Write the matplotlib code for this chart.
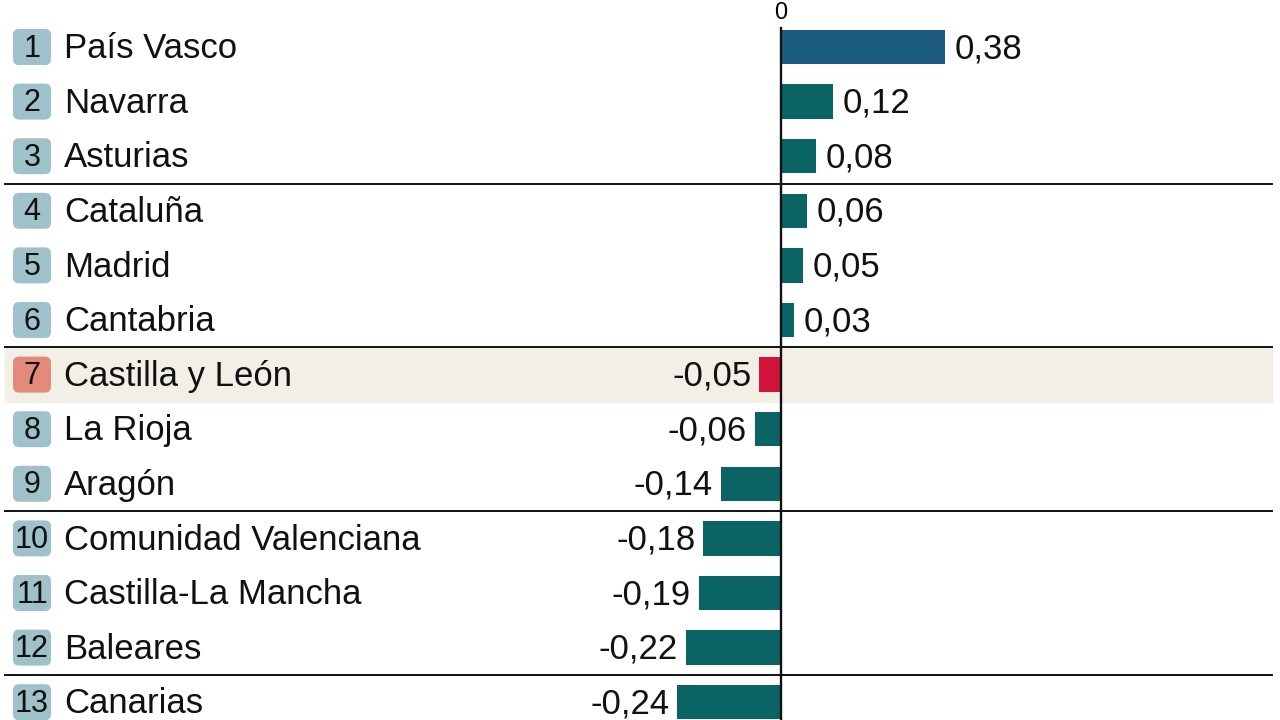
#!/usr/bin/env python3
"""Bar chart of regional differences, diverging around zero."""

import matplotlib
matplotlib.use("Agg")
import matplotlib.pyplot as plt
from matplotlib.patches import FancyBboxPatch

regions = ["País Vasco", "Navarra", "Asturias", "Cataluña", "Madrid", "Cantabria",
           "Castilla y León", "La Rioja", "Aragón", "Comunidad Valenciana",
           "Castilla-La Mancha", "Baleares", "Canarias"]
values = [0.38, 0.12, 0.08, 0.06, 0.05, 0.03,
          -0.05, -0.06, -0.14, -0.18, -0.19, -0.22, -0.24]
labels = ["0,38", "0,12", "0,08", "0,06", "0,05", "0,03",
          "-0,05", "-0,06", "-0,14", "-0,18", "-0,19", "-0,22", "-0,24"]
highlight = "Castilla y León"
separators_after = [2, 5, 8, 11]

W, H = 1280, 720
X0 = 781.0          # pixel of zero
PX_PER_UNIT = 431.6
Y0 = 47.0           # pixel centre of first row
ROW = 54.6

TEAL = "#0b6464"
BLUE = "#1b5c7e"
RED = "#d2143c"
BADGE = "#9fc1c9"
BADGE_HI = "#e48a7c"
BAND = "#f2efe6"

FONT = ["Liberation Sans Narrow", "Liberation Sans", "DejaVu Sans"]

fig = plt.figure(figsize=(W / 100, H / 100), dpi=100)
ax = fig.add_axes([0, 0, 1, 1])
ax.set_xlim(-X0 / PX_PER_UNIT, (W - X0) / PX_PER_UNIT)
ax.set_ylim((H - Y0) / ROW, -Y0 / ROW)
ax.axis("off")


def px(x):
    return (x - X0) / PX_PER_UNIT


n = len(regions)
colors = []
for i, r in enumerate(regions):
    if r == highlight:
        colors.append(RED)
    elif i == 0:
        colors.append(BLUE)
    else:
        colors.append(TEAL)

# highlight band
hi = regions.index(highlight)
ax.axhspan(hi - 0.5, hi + 0.5, xmin=5 / W, xmax=1272 / W, color=BAND, zorder=0)

ax.barh(range(n), values, height=0.63, color=colors, zorder=2)

for s in separators_after:
    ax.plot([px(5), px(1272)], [s + 0.5, s + 0.5], color="#111111", lw=1.4, zorder=3)

ax.plot([0, 0], [-0.35, n], color="#111111", lw=1.7, zorder=4)
ax.text(0, -0.63, "0", ha="center", va="center", fontsize=17, family=FONT)

aspect = PX_PER_UNIT / ROW
for i, (r, v, lab) in enumerate(zip(regions, values, labels)):
    bc = BADGE_HI if r == highlight else BADGE
    w = 38 / PX_PER_UNIT
    h = 36 / ROW
    badge = FancyBboxPatch((px(13), i - h / 2), w, h,
                           boxstyle=f"round,pad=0,rounding_size={6 / PX_PER_UNIT}",
                           mutation_aspect=aspect,
                           fc=bc, ec="none", zorder=2)
    ax.add_patch(badge)
    ax.text(px(32), i + 0.03, str(i + 1), ha="center", va="center",
            fontsize=22, family=FONT, color="#111111", zorder=3)
    ax.text(px(64), i + 0.03, r, ha="left", va="center",
            fontsize=25, family=FONT, color="#111111", zorder=3)
    if v >= 0:
        ax.text(v + 10 / PX_PER_UNIT, i + 0.03, lab, ha="left", va="center",
                fontsize=25, family=FONT, color="#111111", zorder=3)
    else:
        ax.text(v - 8 / PX_PER_UNIT, i + 0.03, lab, ha="right", va="center",
                fontsize=25, family=FONT, color="#111111", zorder=3)

fig.savefig("out.png", dpi=100, facecolor="white")
